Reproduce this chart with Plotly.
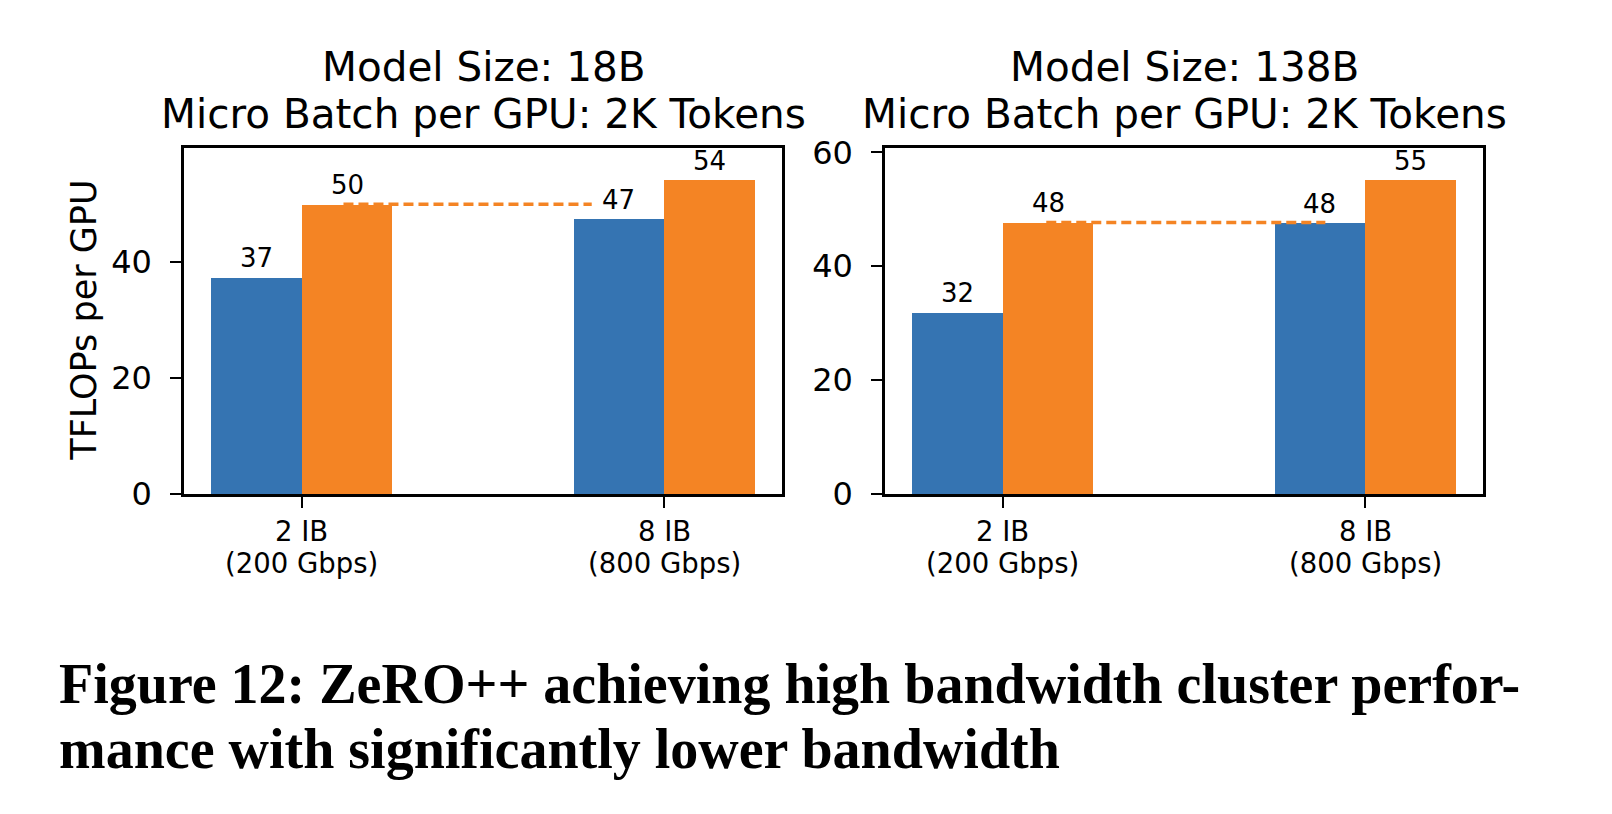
import plotly.graph_objects as go

# ---------------- data ----------------
categories = ["2 IB", "8 IB"]
bandwidths = ["(200 Gbps)", "(800 Gbps)"]
panel_titles = [
    ("Model Size: 18B", "Micro Batch per GPU: 2K Tokens"),
    ("Model Size: 138B", "Micro Batch per GPU: 2K Tokens"),
]
left_baseline = [37.3, 47.4]
left_zeropp = [49.9, 54.1]
right_baseline = [31.9, 47.6]
right_zeropp = [47.7, 55.2]
y_tick_vals = [0, 20, 40, 60]
y_label = "TFLOPs per GPU"
caption_lines = [
    "Figure 12: ZeRO++ achieving high bandwidth cluster perfor-",
    "mance with significantly lower bandwidth",
]

# ---------------- styling ----------------
W, H = 1612, 814
BLUE = "#3574b2"
ORANGE = "#f48424"
FONT = "DejaVu Sans"

def px_x(p):
    return p / W

def px_y(p):
    return 1 - p / H

axes_px = [(184, 782), (885, 1483)]
y_top_px, y_bot_px = 147.5, 494
y_ranges = [59.66, 60.85]
dash_spans = [(0.115, 0.80), (0.12, 0.89)]

panels = [
    (left_baseline, left_zeropp),
    (right_baseline, right_zeropp),
]

fig = go.Figure()
annotations = []
shapes = []
xpos = list(range(len(categories)))

for i, (base, zpp) in enumerate(panels):
    xa = "x" if i == 0 else "x2"
    ya = "y" if i == 0 else "y2"
    fig.add_trace(go.Bar(x=xpos, y=base, width=0.25, offset=-0.25,
                         marker=dict(color=BLUE, line=dict(width=0)),
                         xaxis=xa, yaxis=ya, showlegend=False, hoverinfo="skip"))
    fig.add_trace(go.Bar(x=xpos, y=zpp, width=0.25, offset=0.0,
                         marker=dict(color=ORANGE, line=dict(width=0)),
                         xaxis=xa, yaxis=ya, showlegend=False, hoverinfo="skip"))
    # value labels
    for xv, v in zip(xpos, base):
        annotations.append(dict(x=xv - 0.125, y=v, xref=xa, yref=ya, text=f"{v:.0f}",
                                showarrow=False, yanchor="middle", xanchor="center",
                                yshift=19, font=dict(family=FONT, size=26, color="black")))
    for xv, v in zip(xpos, zpp):
        annotations.append(dict(x=xv + 0.125, y=v, xref=xa, yref=ya, text=f"{v:.0f}",
                                showarrow=False, yanchor="middle", xanchor="center",
                                yshift=19, font=dict(family=FONT, size=26, color="black")))
    # category labels (two lines)
    for xv, c, b in zip(xpos, categories, bandwidths):
        annotations.append(dict(x=xv, y=px_y(530.5), xref=xa, yref="paper", text=c,
                                showarrow=False, yanchor="middle", xanchor="center",
                                font=dict(family=FONT, size=27.5, color="black")))
        annotations.append(dict(x=xv, y=px_y(562.5), xref=xa, yref="paper", text=b,
                                showarrow=False, yanchor="middle", xanchor="center",
                                font=dict(family=FONT, size=27.5, color="black")))
    # titles
    cx = (axes_px[i][0] + axes_px[i][1]) / 2
    annotations.append(dict(x=px_x(cx), y=px_y(66.5), xref="paper", yref="paper",
                            text=panel_titles[i][0], showarrow=False,
                            xanchor="center", yanchor="middle",
                            font=dict(family=FONT, size=40.5, color="black")))
    annotations.append(dict(x=px_x(cx), y=px_y(114), xref="paper", yref="paper",
                            text=panel_titles[i][1], showarrow=False,
                            xanchor="center", yanchor="middle",
                            font=dict(family=FONT, size=40.5, color="black")))
    # dashed reference line at the ZeRO++ low-bandwidth level
    shapes.append(dict(type="line", xref=xa, yref=ya,
                       x0=dash_spans[i][0], x1=dash_spans[i][1], y0=zpp[0], y1=zpp[0],
                       line=dict(color=ORANGE, width=3.5, dash="10px,5px"), layer="above"))

# y-axis title
annotations.append(dict(x=px_x(84), y=px_y((y_top_px + y_bot_px) / 2), xref="paper", yref="paper",
                        text=y_label, textangle=-90, showarrow=False,
                        xanchor="center", yanchor="middle",
                        font=dict(family=FONT, size=35, color="black")))

# caption
annotations.append(dict(x=px_x(57), y=px_y(684), xref="paper", yref="paper",
                        text=f"<b>{caption_lines[0]}</b>", showarrow=False,
                        xanchor="left", yanchor="middle",
                        font=dict(family="Liberation Serif", size=56, color="black")))
annotations.append(dict(x=px_x(57), y=px_y(749), xref="paper", yref="paper",
                        text=f"<b>{caption_lines[1]}</b>", showarrow=False,
                        xanchor="left", yanchor="middle",
                        font=dict(family="Liberation Serif", size=56, color="black")))

common_x = dict(range=[-0.325, 1.325], tickvals=xpos, showticklabels=False,
                ticks="outside", ticklen=11, tickwidth=2, tickcolor="black",
                showline=True, linecolor="black", linewidth=2.5, mirror=True,
                showgrid=False, zeroline=False, fixedrange=True, automargin=False)
common_y = dict(tickvals=y_tick_vals, ticks="outside", ticklen=11, tickwidth=2, tickcolor="black",
                showline=True, linecolor="black", linewidth=2.5, mirror=True,
                showgrid=False, zeroline=False, ticklabelstandoff=12, automargin=False,
                tickfont=dict(family=FONT, size=32, color="black"), fixedrange=True)

dom_y = [px_y(y_bot_px), px_y(y_top_px)]

fig.update_layout(
    template="none",
    width=W, height=H, autosize=False,
    margin=dict(l=0, r=0, t=0, b=0, pad=0),
    paper_bgcolor="white", plot_bgcolor="white",
    barmode="overlay", bargap=0,
    xaxis=dict(domain=[px_x(axes_px[0][0]), px_x(axes_px[0][1])], anchor="y", **common_x),
    xaxis2=dict(domain=[px_x(axes_px[1][0]), px_x(axes_px[1][1])], anchor="y2", **common_x),
    yaxis=dict(domain=dom_y, range=[0, y_ranges[0]], anchor="x", **common_y),
    yaxis2=dict(domain=dom_y, range=[0, y_ranges[1]], anchor="x2", **common_y),
    annotations=annotations,
    shapes=shapes,
    font=dict(family=FONT, color="black"),
)

fig.write_html("out.html", config={"displayModeBar": False},
               post_script="document.body.style.margin='0';document.body.style.overflow='hidden';")
